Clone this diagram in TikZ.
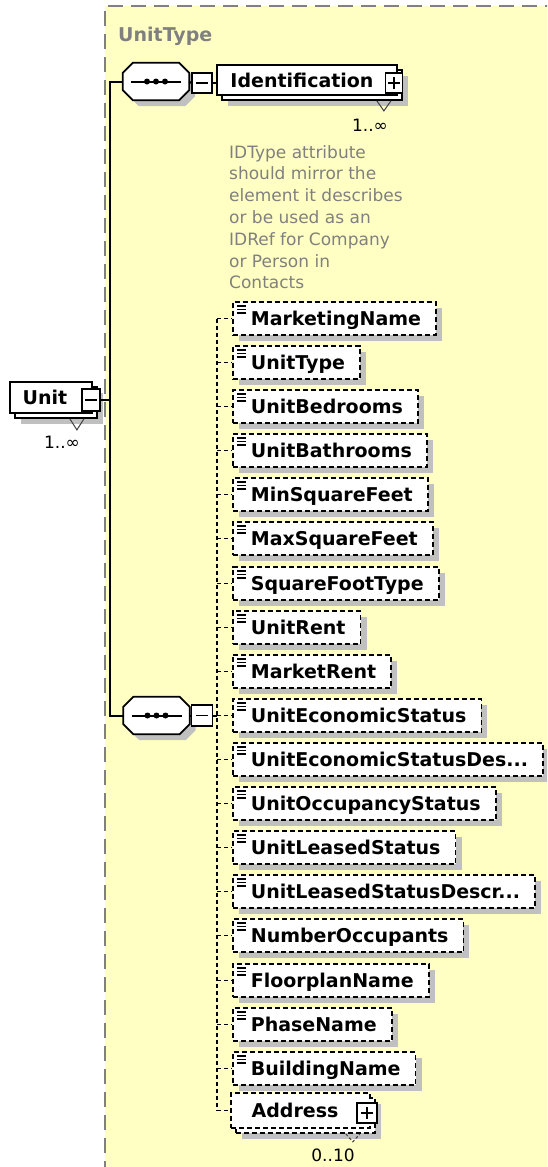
\documentclass[tikz,border=0pt]{standalone}
\usepackage{fontspec}
\setmainfont{DejaVu Sans}
\usetikzlibrary{calc,shadows}
\definecolor{TypeFill}{HTML}{FFFFC4}
\definecolor{TypeEdge}{HTML}{808080}
\definecolor{NoteInk}{HTML}{808080}
\definecolor{ShadeGray}{HTML}{C0C0C0}
\newcommand\namefont{\fontsize{19}{22}\selectfont\bfseries}
\newcommand\notefont{\fontsize{17}{21.8}\selectfont}
\newcommand\multfont{\fontsize{17}{20}\selectfont}
% octagon of a sequence compositor, drawn round an empty node
\newcommand\seqpath[1]{([xshift=10pt]#1.north west) -- ([xshift=-10pt]#1.north east) -- ([yshift=-10pt]#1.north east)
  -- ([yshift=10pt]#1.south east) -- ([xshift=-10pt]#1.south east) -- ([xshift=10pt]#1.south west)
  -- ([yshift=10pt]#1.south west) -- ([yshift=-10pt]#1.north west) -- cycle}
\newcommand\seqframe[1]{%
  \fill[ShadeGray, transform canvas={shift={(6pt,-6pt)}}] \seqpath{#1};
  \draw[seqline] \seqpath{#1};
  \draw[wire] ([xshift=-25pt]#1.center) -- ([xshift=25pt]#1.center);
  \foreach \d in {-9,0,9} \fill ([xshift=\d pt]#1.center) circle (3pt);}
\tikzset{
  castshadow/.style={drop shadow={shadow xshift=6pt, shadow yshift=-6pt, fill=ShadeGray, opacity=1}},
  elem/.style={castshadow, draw=black, fill=white, line width=1.7pt, dash pattern=on 5pt off 3pt, anchor=west,
    minimum height=33pt, inner sep=0pt, text height=14pt, text depth=0pt, font=\namefont,
    execute at begin node={\hspace*{18pt}}, execute at end node={\hspace*{15pt}},
    path picture={\draw[solid, line width=1.1pt]
      ([xshift=4pt,yshift=-4pt]path picture bounding box.north west) -- ++(9pt,0pt)
      ([xshift=4pt,yshift=-7.5pt]path picture bounding box.north west) -- ++(9pt,0pt)
      ([xshift=4pt,yshift=-11pt]path picture bounding box.north west) -- ++(9pt,0pt);}},
  stackbox/.style={draw=black, fill=white, line width=1.8pt, inner sep=0pt, text height=14pt, text depth=0pt, font=\namefont,
    drop shadow={shadow xshift=11pt, shadow yshift=-11pt, fill=ShadeGray, opacity=1},
    copy shadow={shadow xshift=5pt, shadow yshift=-5pt, draw=black, fill=white, line width=1.8pt}},
  addrbox/.style={stackbox, line width=1.7pt, dash pattern=on 5pt off 3pt},
  seq/.style={minimum width=66pt, minimum height=37pt, inner sep=0pt},
  seqline/.style={draw=black, fill=white, line width=1.8pt},
  toggle/.style={draw=black, fill=white, line width=1.8pt, minimum width=20pt, minimum height=20pt, inner sep=0pt},
  minusmark/.style={path picture={\draw[line width=1.6pt] ([xshift=-6pt]path picture bounding box.center) -- ++(12pt,0pt);}},
  plusmark/.style={path picture={\draw[line width=1.6pt] ([xshift=-6pt]path picture bounding box.center) -- ++(12pt,0pt)
      ([yshift=-6pt]path picture bounding box.center) -- ++(0pt,12pt);}},
  wire/.style={draw=black, line width=2pt},
  link/.style={draw=black, line width=1.7pt, dash pattern=on 4pt off 3pt},
  tri/.style={draw=black!75, line width=1pt},
  mult/.style={font=\multfont, inner sep=0pt},
  note/.style={font=\notefont, text=NoteInk, align=left, anchor=north west, inner sep=0pt},
  typelabel/.style={font=\namefont, text=NoteInk, anchor=base west, inner sep=0pt},
  typeedge/.style={draw=TypeEdge, line width=2.2pt, dash pattern=on 15pt off 8pt},
}
\begin{document}
\begin{tikzpicture}[x=1pt,y=-1pt]
  \useasboundingbox (0,0) rectangle (547,1167);
  \clip (0,0) rectangle (547,1167);
  % complex type
  \fill[TypeFill] (105,6) rectangle (560,1180);
  \draw[typeedge] (560,6) -- (105,6) -- (105,1180);
  \node[typelabel] (tname) at (118,41) {UnitType};

  % root element
  \node[stackbox, minimum width=82pt, minimum height=31pt, execute at end node={\hspace*{12pt}}] (unit) at (51,397.5) {Unit};
  \node[toggle, minusmark, minimum width=18pt, minimum height=22pt] (unitm) at (91,400) {};
  \draw[tri] ([xshift=-23pt,yshift=-5pt]unit.south east) -- ++(7pt,-11pt) -- ++(7pt,11pt);
  \node[mult] (unitn) at (62,442) {1..∞};

  % first sequence
  \node[seq] (s1) at (156,81.5) {};
  \seqframe{s1}
  \node[toggle, minusmark] (s1m) at (202,83) {};
  \node[stackbox, minimum width=180pt, minimum height=30pt, execute at end node={\hspace*{10pt}}] (ident) at (307,80) {Identification};
  \node[toggle, plusmark, minimum width=17pt] (identp) at (394,83) {};
  \draw[tri] ([xshift=-21pt,yshift=-5pt]ident.south east) -- ++(7pt,-10pt) -- ++(7pt,10pt);
  \node[mult] (identn) at (370,125) {1..∞};
  \node[note] (idnote) at (229,145) {IDType attribute\\should mirror the\\element it describes\\or be used as an\\IDRef for Company\\or Person in\\Contacts};

  % second sequence
  \node[seq] (s2) at (156.5,715.5) {};
  \seqframe{s2}
  \node[toggle, minusmark, minimum size=21pt] (s2m) at (202,715.5) {};
  \node[elem] (e1) at (232,318.5) {MarketingName};
  \node[elem] (e2) at (232,362.5) {UnitType};
  \node[elem] (e3) at (232,406.5) {UnitBedrooms};
  \node[elem] (e4) at (232,450.5) {UnitBathrooms};
  \node[elem] (e5) at (232,494.5) {MinSquareFeet};
  \node[elem] (e6) at (232,538.5) {MaxSquareFeet};
  \node[elem] (e7) at (232,583.5) {SquareFootType};
  \node[elem] (e8) at (232,627.5) {UnitRent};
  \node[elem] (e9) at (232,671.5) {MarketRent};
  \node[elem] (e10) at (232,715.5) {UnitEconomicStatus};
  \node[elem] (e11) at (232,759.5) {UnitEconomicStatusDes...};
  \node[elem] (e12) at (232,803.5) {UnitOccupancyStatus};
  \node[elem] (e13) at (232,847.5) {UnitLeasedStatus};
  \node[elem] (e14) at (232,891.5) {UnitLeasedStatusDescr...};
  \node[elem] (e15) at (232,935.5) {NumberOccupants};
  \node[elem] (e16) at (232,980.5) {FloorplanName};
  \node[elem] (e17) at (232,1024.5) {PhaseName};
  \node[elem] (e18) at (232,1068.5) {BuildingName};
  \node[addrbox, minimum width=139pt, minimum height=35pt, execute at end node={\hspace*{11pt}}] (addr) at (300.5,1110.5) {Address};
  \node[toggle, plusmark] (addrp) at (367,1113) {};
  \draw[tri, dash pattern=on 3pt off 2pt] ([xshift=-25pt,yshift=-5pt]addr.south east) -- ++(7pt,-8pt) -- ++(7pt,8pt);
  \node[mult] (addrn) at (333,1155) {0..10};

  % connectors
  \coordinate (trunk) at (110,400);
  \coordinate (bus) at (217,715.5);
  \draw[wire] (unitm.east) -- (trunk);
  \draw[wire] (s1.west) -| (trunk) |- (s2.west);
  \draw[wire] (s1.east) -- (s1m.west);
  \draw[wire] (s1m.east) -- (s1m.east -| ident.west);
  \draw[wire] (s2.east) -- (s2m.west);
  \draw[wire] (s2m.east) -- (bus);
  \draw[link] (bus |- e1.west) -- (bus |- addr.west);
  \foreach \n in {e1,e2,e3,e4,e5,e6,e7,e8,e9,e10,e11,e12,e13,e14,e15,e16,e17,e18,addr}
    \draw[link] (bus |- \n.west) -- (\n.west);
\end{tikzpicture}
\end{document}
